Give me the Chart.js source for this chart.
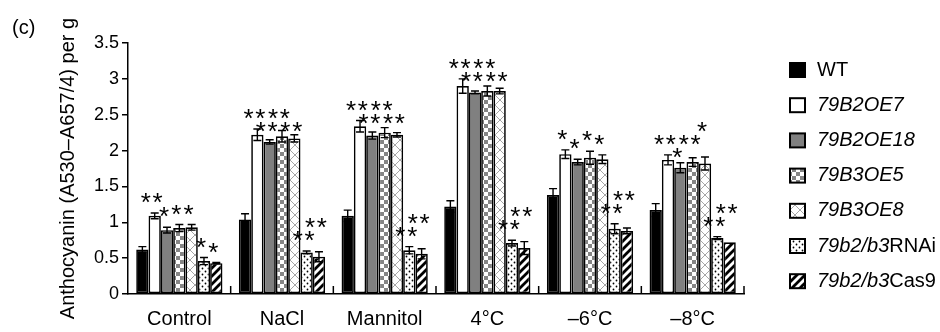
<!DOCTYPE html>
<html><head><meta charset="utf-8">
<script src="https://cdn.jsdelivr.net/npm/chart.js@4.4.1/dist/chart.umd.min.js"></script>
<style>html,body{margin:0;padding:0;background:#fff;}canvas{display:block;}</style>
</head><body>
<canvas id="c" width="940" height="332"></canvas>
<script>
// ---- data ----
const categories = ['Control', 'NaCl', 'Mannitol', '4°C', '–6°C', '–8°C'];
const seriesNames = ['WT', '79B2OE7', '79B2OE18', '79B3OE5', '79B3OE8', '79b2/b3RNAi', '79b2/b3Cas9'];
const yTicks = [0, 0.5, 1, 1.5, 2, 2.5, 3, 3.5];
const yTickLabels = ['0', '0.5', '1', '1.5', '2', '2.5', '3', '3.5'];

const wtValues   = [0.62, 1.04, 1.09, 1.22, 1.38, 1.17];
const wtErr      = [0.04, 0.08, 0.08, 0.08, 0.09, 0.09];
const wtSig      = ['', '', '', '', '', ''];

const oe7Values  = [1.09, 2.22, 2.34, 2.90, 1.95, 1.87];
const oe7Err     = [0.04, 0.08, 0.08, 0.10, 0.06, 0.07];
const oe7Sig     = ['**', '**', '**', '**', '*', '**'];

const oe18Values = [0.89, 2.12, 2.21, 2.81, 1.84, 1.76];
const oe18Err    = [0.04, 0.03, 0.05, 0.02, 0.04, 0.07];
const oe18Sig    = ['*', '**', '**', '**', '*', '*'];

const oe5Values  = [0.92, 2.20, 2.25, 2.83, 1.90, 1.84];
const oe5Err     = [0.05, 0.08, 0.07, 0.07, 0.09, 0.06];
const oe5Sig     = ['*', '**', '**', '**', '*', '**'];

const oe8Values  = [0.93, 2.17, 2.22, 2.83, 1.88, 1.82];
const oe8Err     = [0.04, 0.05, 0.03, 0.04, 0.06, 0.09];
const oe8Sig     = ['*', '**', '**', '**', '*', '*'];

const rnaiValues = [0.46, 0.58, 0.61, 0.71, 0.91, 0.78];
const rnaiErr    = [0.05, 0.02, 0.05, 0.04, 0.07, 0.02];
const rnaiSig    = ['*', '**', '**', '**', '**', '**'];

const cas9Values = [0.43, 0.52, 0.56, 0.64, 0.88, 0.72];
const cas9Err    = [0.01, 0.07, 0.07, 0.09, 0.04, 0.00];
const cas9Sig    = ['*', '**', '**', '**', '**', '**'];

const allValues = [wtValues, oe7Values, oe18Values, oe5Values, oe8Values, rnaiValues, cas9Values];
const allErr    = [wtErr, oe7Err, oe18Err, oe5Err, oe8Err, rnaiErr, cas9Err];
const allSig    = [wtSig, oe7Sig, oe18Sig, oe5Sig, oe8Sig, rnaiSig, cas9Sig];

// ---- fills ----
const FONT = '"Liberation Sans", Arial, Helvetica, sans-serif';
const canvas = document.getElementById('c');
const mainCtx = canvas.getContext('2d');
function makePattern(w, h, draw) {
  const t = document.createElement('canvas');
  t.width = w; t.height = h;
  const g = t.getContext('2d');
  g.fillStyle = '#fff'; g.fillRect(0, 0, w, h);
  draw(g, w, h);
  return mainCtx.createPattern(t, 'repeat');
}
const checker = makePattern(8, 8, (g) => {
  g.fillStyle = '#858585';
  g.fillRect(0, 0, 4, 4); g.fillRect(4, 4, 4, 4);
});
const lattice = makePattern(10, 10, (g) => {
  g.strokeStyle = '#a6a6a6'; g.lineWidth = 1;
  g.beginPath(); g.moveTo(0, 0); g.lineTo(10, 10); g.moveTo(10, 0); g.lineTo(0, 10); g.stroke();
});
const dots = makePattern(6, 6, (g) => {
  g.fillStyle = '#000';
  g.beginPath(); g.arc(1.5, 1.5, 0.9, 0, Math.PI * 2); g.fill();
  g.beginPath(); g.arc(4.5, 4.5, 0.9, 0, Math.PI * 2); g.fill();
});
const stripes = makePattern(8, 8, (g) => {
  g.strokeStyle = '#000'; g.lineWidth = 2.8;
  g.beginPath();
  g.moveTo(-4, 4); g.lineTo(4, -4);
  g.moveTo(0, 8); g.lineTo(8, 0);
  g.moveTo(4, 12); g.lineTo(12, 4);
  g.stroke();
});
const fills = ['#000', '#fff', '#808080', checker, lattice, dots, stripes];

// ---- plugins ----
const errorBars = {
  id: 'errorBars',
  afterDatasetsDraw(chart) {
    const ctx = chart.ctx, ys = chart.scales.y;
    ctx.save();
    ctx.strokeStyle = '#000'; ctx.lineWidth = 1.4;
    chart.data.datasets.forEach((ds, i) => {
      const meta = chart.getDatasetMeta(i);
      meta.data.forEach((el, j) => {
        const e = allErr[i][j];
        if (!e) return;
        const v = ds.data[j];
        const top = ys.getPixelForValue(v + e), bot = ys.getPixelForValue(v - e);
        ctx.beginPath();
        ctx.moveTo(el.x, top); ctx.lineTo(el.x, bot);
        ctx.moveTo(el.x - 4, top); ctx.lineTo(el.x + 4, top);
        ctx.moveTo(el.x - 4, bot); ctx.lineTo(el.x + 4, bot);
        ctx.stroke();
      });
    });
    // significance stars
    const fs = 26, G = 17, R = 13, M = 9, sp = 11.8;
    const last = chart.data.datasets.length - 1;
    ctx.fillStyle = '#000';
    ctx.font = fs + 'px ' + FONT;
    ctx.textAlign = 'center'; ctx.textBaseline = 'alphabetic';
    categories.forEach((c, j) => {
      let prev = null;
      chart.data.datasets.forEach((ds, i) => {
        const sig = allSig[i][j];
        if (!sig) { prev = null; return; }
        const el = chart.getDatasetMeta(i).data[j];
        const cx = el.x - 3;
        const errTop = ys.getPixelForValue(ds.data[j] + (allErr[i][j] || 0));
        const n = sig.length, w = n === 2 ? 20 : 7;
        let y = errTop - G;
        if (prev && Math.abs(cx - prev.cx) < (w + prev.w) / 2 && Math.abs(y - prev.y) < R) {
          if (y > prev.y && i < last && prev.y + R <= errTop - M) y = prev.y + R;
          else y = Math.min(y, prev.y - R);
        }
        for (let k = 0; k < n; k++) {
          ctx.fillText('*', cx + (k - (n - 1) / 2) * sp, y + 0.58 * fs);
        }
        prev = { cx, y, w };
      });
    });
    ctx.restore();
  }
};

const decorations = {
  id: 'decorations',
  afterDraw(chart) {
    const ctx = chart.ctx, a = chart.chartArea;
    ctx.save();
    // inward category separators on x axis
    ctx.strokeStyle = '#000'; ctx.lineWidth = 1.5;
    const n = categories.length;
    for (let i = 1; i <= n; i++) {
      const x = a.left + (a.right - a.left) * i / n;
      ctx.beginPath(); ctx.moveTo(x, a.bottom); ctx.lineTo(x, a.bottom - 8); ctx.stroke();
    }
    // panel label
    ctx.fillStyle = '#000';
    ctx.font = '20px ' + FONT;
    ctx.textAlign = 'left'; ctx.textBaseline = 'alphabetic';
    ctx.fillText('(c)', 12, 34);
    // legend
    const lx = 790, ly0 = 70, step = 35.2;
    seriesNames.forEach((name, i) => {
      const cy = ly0 + step * i;
      ctx.fillStyle = fills[i];
      ctx.fillRect(lx, cy - 7, 15, 14);
      ctx.strokeStyle = '#000'; ctx.lineWidth = 2;
      ctx.strokeRect(lx, cy - 7, 15, 14);
      let italicPart = name, normalPart = '';
      if (name === 'WT') { italicPart = ''; normalPart = name; }
      else {
        const m = name.match(/^(.*?)(RNAi|Cas9)$/);
        if (m) { italicPart = m[1]; normalPart = m[2]; }
      }
      ctx.fillStyle = '#000'; ctx.textBaseline = 'middle';
      let tx = 817;
      if (italicPart) {
        ctx.font = 'italic 20px ' + FONT;
        ctx.fillText(italicPart, tx, cy);
        tx += ctx.measureText(italicPart).width;
      }
      if (normalPart) {
        ctx.font = '20px ' + FONT;
        ctx.fillText(normalPart, tx, cy);
      }
    });
    ctx.restore();
  }
};

new Chart(canvas, {
  type: 'bar',
  data: {
    labels: categories,
    datasets: seriesNames.map((name, i) => ({
      label: name,
      data: allValues[i],
      backgroundColor: fills[i],
      borderColor: '#000',
      borderWidth: 1.7,
      borderSkipped: false,
      categoryPercentage: 0.84,
      barPercentage: 1
    }))
  },
  options: {
    responsive: false,
    animation: false,
    devicePixelRatio: 1,
    layout: { padding: { left: 0, right: 196, top: 43, bottom: 0 } },
    plugins: { legend: { display: false }, tooltip: { enabled: false } },
    scales: {
      x: {
        grid: { display: false },
        border: { display: true, color: '#000', width: 1.5 },
        ticks: { color: '#000', font: { family: FONT, size: 20 }, padding: 5, maxRotation: 0 },
        afterFit(s) { s.height = 38; }
      },
      y: {
        min: 0, max: 3.5,
        afterBuildTicks(s) { s.ticks = yTicks.map(v => ({ value: v })); },
        grid: { drawOnChartArea: false, drawTicks: true, tickLength: 6, color: '#000', lineWidth: 1.5 },
        border: { display: true, color: '#000', width: 1.5 },
        ticks: {
          color: '#000', font: { family: FONT, size: 18 }, padding: 3,
          callback: (v) => yTickLabels[yTicks.indexOf(v)] ?? String(v)
        },
        title: {
          display: true,
          text: 'Anthocyanin (A530–A657/4) per g',
          color: '#000',
          font: { family: FONT, size: 20 },
          padding: { top: 56, bottom: 0 }
        },
        afterFit(s) { s.width = 128; }
      }
    }
  },
  plugins: [errorBars, decorations]
});
</script>
</body></html>
